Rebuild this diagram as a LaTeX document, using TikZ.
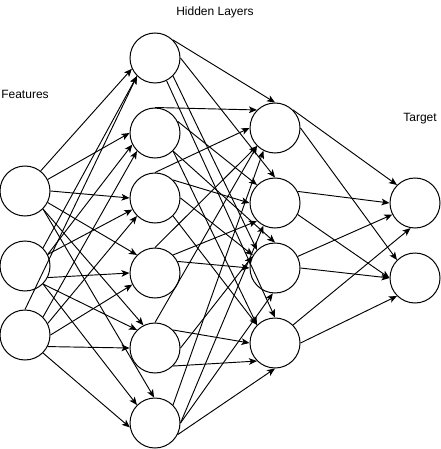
\documentclass[tikz,border=0pt]{standalone}
\usepackage{fontspec}
\setmainfont{Liberation Sans}
\usetikzlibrary{arrows.meta}
\begin{document}
\begin{tikzpicture}[x=0.75pt,y=-0.75pt,
  neuron/.style={draw,circle,line width=0.75pt,minimum size=37.5pt,inner sep=0pt},
  arr/.style={line width=0.7pt,-{Stealth[length=6pt,width=5pt,inset=1.5pt]}},
  lbl/.style={font=\fontsize{9}{11}\selectfont,inner sep=0pt}]
\useasboundingbox (0,0) rectangle (441,449);
% labels
\node[lbl] (lblH) at (215,12) {Hidden Layers};
\node[lbl] (lblF) at (25,94) {Features};
\node[lbl] (lblT) at (420,119) {Target};
% input
\node[neuron] (I1) at (25,191) {};
\node[neuron] (I2) at (25,266) {};
\node[neuron] (I3) at (25,335) {};
% hidden 1
\node[neuron] (A1) at (155,58) {};
\node[neuron] (A2) at (155,133) {};
\node[neuron] (A3) at (155,198) {};
\node[neuron] (A4) at (155,273) {};
\node[neuron] (A5) at (155,348) {};
\node[neuron] (A6) at (155,423) {};
% hidden 2
\node[neuron] (B1) at (275,128) {};
\node[neuron] (B2) at (275,203) {};
\node[neuron] (B3) at (275,268) {};
\node[neuron] (B4) at (275,343) {};
% output
\node[neuron] (O1) at (415,203) {};
\node[neuron] (O2) at (415,278) {};
% input -> hidden 1
\draw[arr] (I1.52) -- (A1.205);
\draw[arr] (I1.27) -- (A2.180);
\draw[arr] (I1.0) -- (A3.180);
\draw[arr] (I1.333) -- (A4.135);
\draw[arr] (I1.315) -- (A5.117);
\draw[arr] (I1.315) -- (A6.92);
\draw[arr] (I2.45) -- (A1.225);
\draw[arr] (I2.27) -- (A2.207);
\draw[arr] (I2.27) -- (A3.207);
\draw[arr] (I2.333) -- (A4.180);
\draw[arr] (I2.315) -- (A5.135);
\draw[arr] (I2.315) -- (A6.135);
\draw[arr] (I3.90) -- (A1.225);
\draw[arr] (I3.45) -- (A2.225);
\draw[arr] (I3.27) -- (A3.225);
\draw[arr] (I3.0) -- (A4.207);
\draw[arr] (I3.333) -- (A5.180);
\draw[arr] (I3.315) -- (A6.190);
% hidden 1 -> hidden 2
\draw[arr] (A1.45) -- (B1.90);
\draw[arr] (A1.0) -- (B2.90);
\draw[arr] (A1.315) -- (B3.135);
\draw[arr] (A1.297) -- (B4.90);
\draw[arr] (A2.90) -- (B1.135);
\draw[arr] (A2.27) -- (B2.135);
\draw[arr] (A2.315) -- (B3.90);
\draw[arr] (A2.315) -- (B4.135);
\draw[arr] (A3.90) -- (B1.180);
\draw[arr] (A3.45) -- (B2.180);
\draw[arr] (A3.0) -- (B3.150);
\draw[arr] (A3.315) -- (B4.135);
\draw[arr] (A4.90) -- (B1.225);
\draw[arr] (A4.45) -- (B2.225);
\draw[arr] (A4.27) -- (B3.180);
\draw[arr] (A5.90) -- (B1.225);
\draw[arr] (A5.0) -- (B3.153);
\draw[arr] (A5.45) -- (B4.180);
\draw[arr] (A5.315) -- (B4.225);
\draw[arr] (A6.45) -- (B1.243);
\draw[arr] (A6.0) -- (B2.243);
\draw[arr] (A6.0) -- (B3.265);
\draw[arr] (A6.333) -- (B4.270);
% hidden 2 -> output
\draw[arr] (B1.45) -- (O1.135);
\draw[arr] (B1.0) -- (O2.135);
\draw[arr] (B2.27) -- (O1.180);
\draw[arr] (B2.333) -- (O2.180);
\draw[arr] (B3.27) -- (O1.207);
\draw[arr] (B3.0) -- (O2.180);
\draw[arr] (B4.45) -- (O1.260);
\draw[arr] (B4.0) -- (O2.225);
\end{tikzpicture}
\end{document}
